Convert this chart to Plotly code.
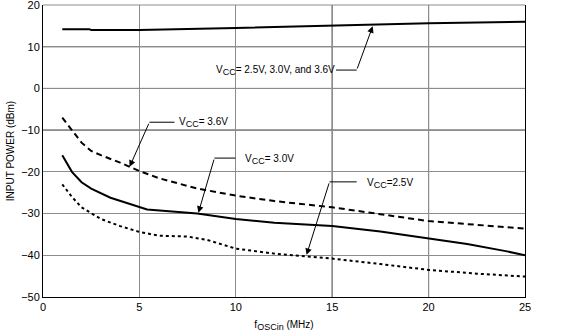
import plotly.graph_objects as go

# ---- data ----
x_all = [1, 2.4, 2.5, 5, 10, 15, 20, 25]
y_all = [14.2, 14.2, 14.0, 14.0, 14.5, 15.1, 15.6, 16.0]

x_36 = [1, 1.5, 2, 2.5, 3, 4, 5, 6, 7, 8, 10, 12, 15, 20, 25]
y_36 = [-7, -10, -13, -15, -16, -17.8, -19.8, -21.5, -22.8, -24, -25.7, -27, -28.5, -31.8, -33.6]

x_30 = [1, 1.2, 1.5, 2, 2.5, 3.5, 5.4, 8, 10, 12, 15, 17.5, 20, 22, 24, 25]
y_30 = [-16, -17.5, -20, -22.5, -24, -26.2, -29, -30, -31.3, -32.2, -33, -34.3, -36, -37.3, -39, -40]

x_25 = [1, 1.5, 2, 3, 4, 5, 6, 7.5, 8.5, 10, 12, 13.7, 15, 17.5, 20, 22.5, 25]
y_25 = [-23, -26, -28.5, -31.3, -33, -34.4, -35.3, -35.5, -36.3, -38.4, -39.6, -40.2, -40.8, -42.1, -43.5, -44.4, -45.1]

x_ticks = [0, 5, 10, 15, 20, 25]
y_ticks = [20, 10, 0, -10, -20, -30, -40, -50]
black_grid_x = [15, 20]
black_grid_y = [10, 0, -10]

SUB = '<sub><span style="font-size:9px">CC</span></sub>'

# callouts: text, text anchor (x,y), elbow start (x,y), elbow end x, arrow tip (x,y)
callouts = [
    dict(text="V" + SUB + "= 2.5V, 3.0V, and 3.6V", tx=8.89, ty=4.4, xanchor="left",
         hx0=15.2, hx1=16.27, hy=4.4, tipx=17.1, tipy=14.9),
    dict(text="V" + SUB + "= 3.6V", tx=6.93, ty=-8.1, xanchor="left",
         hx0=6.82, hx1=5.52, hy=-8.1, tipx=4.49, tipy=-18.8),
    dict(text="V" + SUB + "= 3.0V", tx=10.35, ty=-17.0, xanchor="left",
         hx0=9.98, hx1=8.89, hy=-16.7, tipx=8.06, tipy=-29.8),
    dict(text="V" + SUB + "=2.5V", tx=16.68, ty=-22.8, xanchor="left",
         hx0=16.27, hx1=14.86, hy=-22.4, tipx=13.67, tipy=-39.9),
]

FONT = "Liberation Sans, Arial, sans-serif"

fig = go.Figure()
fig.add_trace(go.Scatter(x=x_all, y=y_all, mode="lines", line=dict(color="black", width=2)))
fig.add_trace(go.Scatter(x=x_36, y=y_36, mode="lines", line=dict(color="black", width=2, dash="6px,4px")))
fig.add_trace(go.Scatter(x=x_30, y=y_30, mode="lines", line=dict(color="black", width=2)))
fig.add_trace(go.Scatter(x=x_25, y=y_25, mode="lines", line=dict(color="black", width=2, dash="3px,3px")))

shapes = []
for gx in black_grid_x:
    shapes.append(dict(type="line", xref="x", yref="paper", x0=gx, x1=gx, y0=0, y1=1,
                       line=dict(color="black", width=1), layer="below"))
for gy in black_grid_y:
    shapes.append(dict(type="line", xref="paper", yref="y", x0=0, x1=1, y0=gy, y1=gy,
                       line=dict(color="black", width=1), layer="below"))
# top frame edge (grey)
shapes.append(dict(type="line", xref="paper", yref="paper", x0=0, x1=1, y0=1, y1=1,
                   line=dict(color="#8c8c8c", width=1), layer="below"))

annotations = []
for c in callouts:
    annotations.append(dict(x=c["tx"], y=c["ty"], xref="x", yref="y", text=c["text"],
                            showarrow=False, xanchor=c["xanchor"], yanchor="middle",
                            font=dict(family=FONT, size=10, color="black")))
    shapes.append(dict(type="line", xref="x", yref="y", x0=c["hx0"], x1=c["hx1"],
                       y0=c["hy"], y1=c["hy"], line=dict(color="black", width=1)))
    annotations.append(dict(x=c["tipx"], y=c["tipy"], xref="x", yref="y",
                            ax=c["hx1"], ay=c["hy"], axref="x", ayref="y", text="",
                            showarrow=True, arrowhead=2, arrowsize=1.3, arrowwidth=1,
                            arrowcolor="black", standoff=0))

fig.update_layout(
    width=567, height=334,
    margin=dict(l=43, r=42, t=5, b=37),
    paper_bgcolor="white", plot_bgcolor="white",
    showlegend=False,
    font=dict(family=FONT, size=11, color="black"),
    shapes=shapes, annotations=annotations,
    xaxis=dict(range=[0, 25], tickvals=x_ticks, showgrid=True, gridcolor="#8c8c8c",
               gridwidth=1, zeroline=False, showline=True, linecolor="black", linewidth=1,
               ticks="", tickfont=dict(size=11), ticklabeloverflow="allow", automargin=False,
               title=dict(text='f<sub><span style="font-size:9px">OSCin</span></sub> (MHz)',
                          font=dict(size=10), standoff=8)),
    yaxis=dict(range=[-50, 20], tickvals=y_ticks, showgrid=True, gridcolor="#8c8c8c",
               gridwidth=1, zeroline=False, showline=True, linecolor="black", linewidth=1,
               mirror=True, ticks="", tickfont=dict(size=11), ticklabeloverflow="allow",
               automargin=False,
               title=dict(text="INPUT POWER (dBm)", font=dict(size=10), standoff=4)),
)

fig.write_html("out.html")
